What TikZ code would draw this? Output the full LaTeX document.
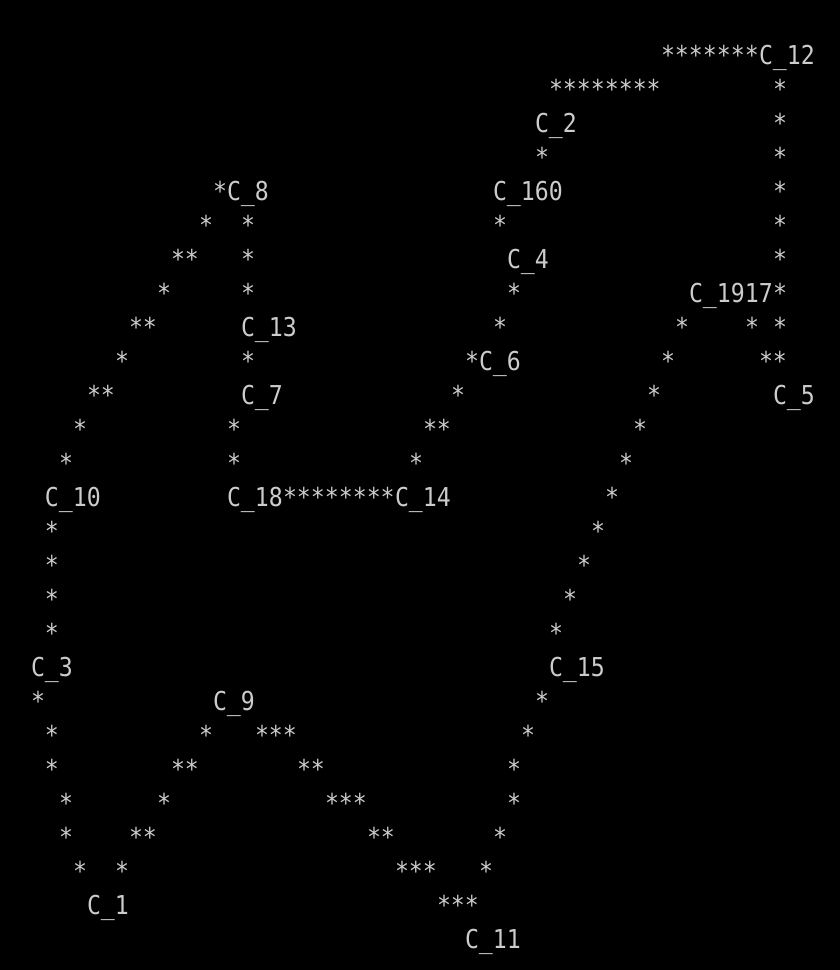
\documentclass[tikz,border=0pt]{standalone}
\usepackage{fontspec}
\newfontfamily\asciifont[FakeStretch=0.892]{DejaVu Sans Mono}
\definecolor{ink}{HTML}{CCCCCC}
\tikzset{
  cell/.style={anchor=base west, inner sep=0pt, outer sep=0pt, text=ink,
    font=\asciifont\fontsize{26}{26}\selectfont},
  lbl/.style={cell},
  stars/.style={cell}
}
\begin{document}
\begin{tikzpicture}[x=1pt,y=1pt]
\fill[black] (0,0) rectangle (840,-970);
\useasboundingbox (0,0) rectangle (840,-970);
\foreach \c/\r/\t/\n/\s in {
 45/0/*******/a0x45/stars, 52/0/C\_12/C12/lbl,
 37/1/********/a1x37/stars, 53/1/*/a1x53/stars,
 36/2/C\_2/C2/lbl, 53/2/*/a2x53/stars,
 36/3/*/a3x36/stars, 53/3/*/a3x53/stars,
 13/4/*/a4x13/stars, 14/4/C\_8/C8/lbl, 33/4/C\_160/C160/lbl, 53/4/*/a4x53/stars,
 12/5/*/a5x12/stars, 15/5/*/a5x15/stars, 33/5/*/a5x33/stars, 53/5/*/a5x53/stars,
 10/6/**/a6x10/stars, 15/6/*/a6x15/stars, 34/6/C\_4/C4/lbl, 53/6/*/a6x53/stars,
 9/7/*/a7x9/stars, 15/7/*/a7x15/stars, 34/7/*/a7x34/stars, 47/7/C\_1917/C1917/lbl, 53/7/*/a7x53/stars,
 7/8/**/a8x7/stars, 15/8/C\_13/C13/lbl, 33/8/*/a8x33/stars, 46/8/*/a8x46/stars, 51/8/*/a8x51/stars, 53/8/*/a8x53/stars,
 6/9/*/a9x6/stars, 15/9/*/a9x15/stars, 31/9/*/a9x31/stars, 32/9/C\_6/C6/lbl, 45/9/*/a9x45/stars, 52/9/**/a9x52/stars,
 4/10/**/a10x4/stars, 15/10/C\_7/C7/lbl, 30/10/*/a10x30/stars, 44/10/*/a10x44/stars, 53/10/C\_5/C5/lbl,
 3/11/*/a11x3/stars, 14/11/*/a11x14/stars, 28/11/**/a11x28/stars, 43/11/*/a11x43/stars,
 2/12/*/a12x2/stars, 14/12/*/a12x14/stars, 27/12/*/a12x27/stars, 42/12/*/a12x42/stars,
 1/13/C\_10/C10/lbl, 14/13/C\_18/C18/lbl, 18/13/********/a13x18/stars, 26/13/C\_14/C14/lbl, 41/13/*/a13x41/stars,
 1/14/*/a14x1/stars, 40/14/*/a14x40/stars,
 1/15/*/a15x1/stars, 39/15/*/a15x39/stars,
 1/16/*/a16x1/stars, 38/16/*/a16x38/stars,
 1/17/*/a17x1/stars, 37/17/*/a17x37/stars,
 0/18/C\_3/C3/lbl, 37/18/C\_15/C15/lbl,
 0/19/*/a19x0/stars, 13/19/C\_9/C9/lbl, 36/19/*/a19x36/stars,
 1/20/*/a20x1/stars, 12/20/*/a20x12/stars, 16/20/***/a20x16/stars, 35/20/*/a20x35/stars,
 1/21/*/a21x1/stars, 10/21/**/a21x10/stars, 19/21/**/a21x19/stars, 34/21/*/a21x34/stars,
 2/22/*/a22x2/stars, 9/22/*/a22x9/stars, 21/22/***/a22x21/stars, 34/22/*/a22x34/stars,
 2/23/*/a23x2/stars, 7/23/**/a23x7/stars, 24/23/**/a23x24/stars, 33/23/*/a23x33/stars,
 3/24/*/a24x3/stars, 6/24/*/a24x6/stars, 26/24/***/a24x26/stars, 32/24/*/a24x32/stars,
 4/25/C\_1/C1/lbl, 29/25/***/a25x29/stars,
 31/26/C\_11/C11/lbl}{
  \node[\s] (\n) at ({31+14*\c},{-64-34*\r}) {\t};
}
\end{tikzpicture}
\end{document}
